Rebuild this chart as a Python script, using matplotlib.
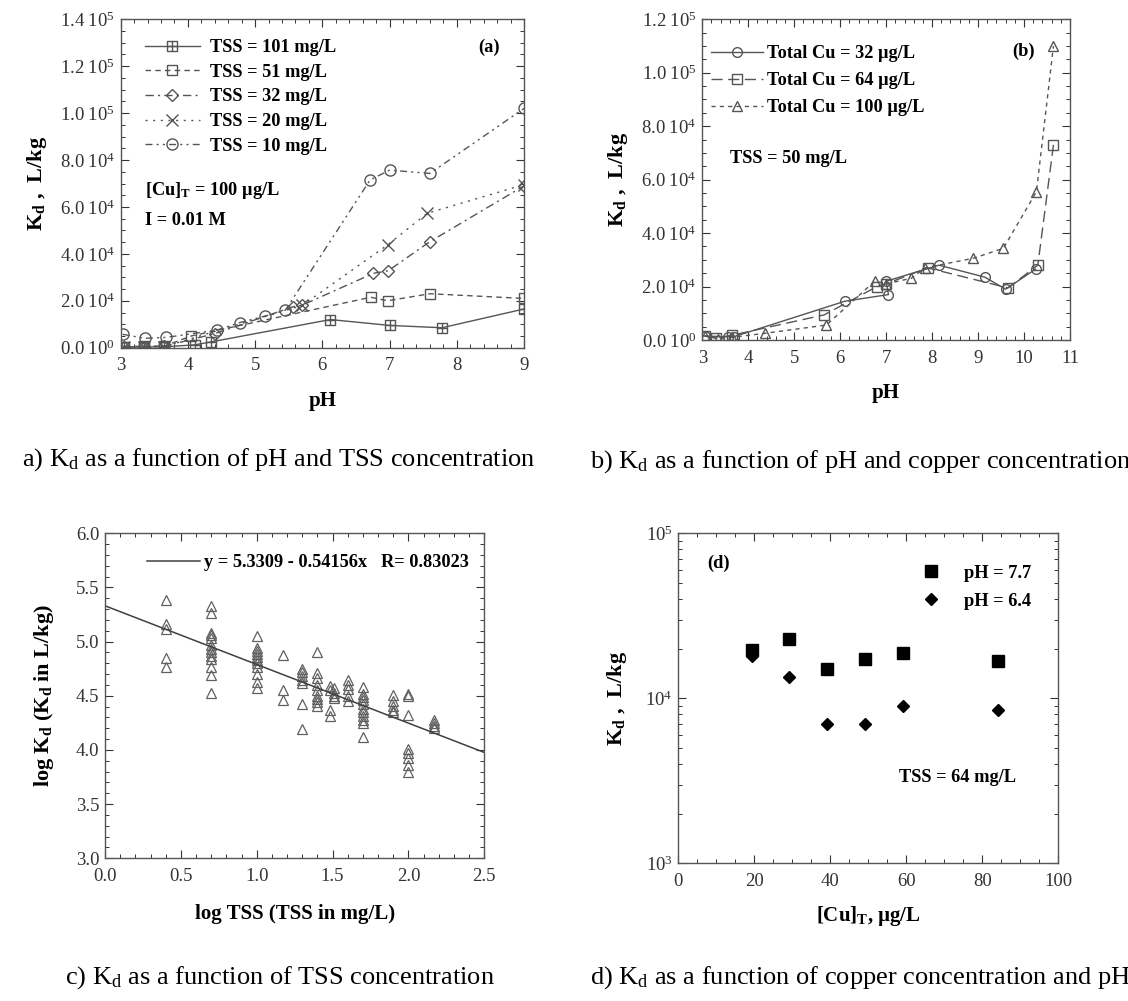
import numpy as np
import matplotlib
matplotlib.use("Agg")
import matplotlib.pyplot as plt
from matplotlib.path import Path
from matplotlib.ticker import MultipleLocator, FuncFormatter, LogLocator, LogFormatterMathtext, NullFormatter

plt.rcParams['font.family'] = ['Liberation Serif', 'DejaVu Serif']
plt.rcParams['mathtext.fontset'] = 'custom'
plt.rcParams['mathtext.rm'] = 'Liberation Serif'
plt.rcParams['mathtext.it'] = 'Liberation Serif:italic'
plt.rcParams['mathtext.bf'] = 'Liberation Serif:bold'

# ---------------- data: panel (a) ----------------
ph_a_101 = [3.05, 3.35, 3.65, 4.1, 4.35, 6.12, 7.0, 7.78, 9.0]
kd_a_101 = [300, 300, 400, 1200, 2500, 12000, 9500, 8500, 16500]
ph_a_51 = [3.05, 3.35, 3.65, 4.05, 6.72, 6.97, 7.6, 9.0]
kd_a_51 = [500, 600, 700, 5000, 21500, 20000, 23000, 21000]
ph_a_32 = [3.05, 3.35, 3.65, 4.4, 5.57, 5.69, 6.76, 6.98, 7.6, 9.0]
kd_a_32 = [400, 500, 600, 6000, 17500, 18000, 31700, 32800, 45200, 69000]
ph_a_20 = [3.05, 3.35, 3.65, 5.7, 6.97, 7.56, 9.0]
kd_a_20 = [300, 400, 500, 18000, 43800, 57300, 69500]
ph_a_10 = [3.03, 3.36, 3.68, 4.43, 4.77, 5.15, 5.45, 6.71, 7.0, 7.6, 9.0]
kd_a_10 = [5700, 4000, 4400, 7500, 10700, 13500, 16000, 71500, 75700, 74300, 102000]
labels_a = ["TSS = 101 mg/L", "TSS = 51 mg/L", "TSS = 32 mg/L", "TSS = 20 mg/L", "TSS = 10 mg/L"]

# ---------------- data: panel (b) ----------------
ph_b_32 = [3.05, 3.55, 3.7, 6.1, 7.05, 7.0, 8.15, 9.15, 9.6, 10.25]
kd_b_32 = [1500, 1200, 1300, 14500, 17000, 22000, 28000, 23500, 19000, 26500]
ph_b_64 = [3.05, 3.3, 3.65, 5.65, 6.8, 7.0, 7.9, 9.65, 10.3, 10.64]
kd_b_64 = [1500, 800, 1800, 9400, 20000, 21000, 27000, 19500, 28000, 73000]
ph_b_100 = [3.05, 3.35, 3.65, 4.36, 5.7, 6.75, 7.0, 7.55, 7.85, 8.9, 9.55, 10.27, 10.64]
kd_b_100 = [1500, 500, 1000, 2500, 5600, 22000, 21000, 23100, 27000, 30600, 34300, 55500, 110000]
labels_b = ["Total Cu = 32 \u00b5g/L", "Total Cu = 64 \u00b5g/L", "Total Cu = 100 \u00b5g/L"]

# ---------------- data: panel (c) ----------------
logtss_groups = [0.4, 0.7, 1.0, 1.17, 1.3, 1.4, 1.48, 1.51, 1.6, 1.7, 1.9, 2.0, 2.17]
logkd_groups = [
    [5.38, 5.16, 5.12, 4.85, 4.77],
    [5.33, 5.26, 5.08, 5.06, 5.03, 4.97, 4.93, 4.90, 4.87, 4.84, 4.77, 4.69, 4.53],
    [5.05, 4.94, 4.91, 4.89, 4.86, 4.83, 4.80, 4.77, 4.70, 4.63, 4.57],
    [4.88, 4.55, 4.46],
    [4.75, 4.72, 4.68, 4.65, 4.62, 4.42, 4.19],
    [4.90, 4.71, 4.66, 4.60, 4.55, 4.50, 4.47, 4.44, 4.41],
    [4.59, 4.55, 4.37, 4.31],
    [4.57, 4.53, 4.50, 4.48],
    [4.65, 4.60, 4.56, 4.50, 4.45],
    [4.58, 4.52, 4.49, 4.46, 4.42, 4.38, 4.35, 4.31, 4.28, 4.25, 4.12],
    [4.51, 4.45, 4.41, 4.37, 4.35],
    [4.52, 4.50, 4.32, 4.01, 3.97, 3.93, 3.86, 3.80],
    [4.28, 4.25, 4.22, 4.20],
]
fit_intercept = 5.3309
fit_slope = -0.54156
fit_label = "y = 5.3309 - 0.54156x   R= 0.83023"

# ---------------- data: panel (d) ----------------
cu_d = [19.3, 29.2, 39.0, 49.1, 59.2, 84.2]
kd_d_77 = [19600, 22800, 15100, 17200, 18700, 16800]
kd_d_64 = [18100, 13500, 6980, 6950, 9040, 8500]
labels_d = ["pH = 7.7", "pH = 6.4"]

# ---------------- figure ----------------
W, H = 1128, 1001
fig = plt.figure(figsize=(W / 100, H / 100), dpi=100)

def axes_px(x0, y0, x1, y1):
    return fig.add_axes([x0 / W, 1 - y1 / H, (x1 - x0) / W, (y1 - y0) / H])

TICK_FS = 13.5
LAB_FS = 15
LEG_FS = 13.2
GRAY = '#555555'

def style_axes(ax):
    ax.tick_params(which='both', direction='in', top=True, right=True, labelsize=TICK_FS, colors='#333333')
    ax.tick_params(which='major', length=6, width=0.8)
    ax.tick_params(which='minor', length=3, width=0.7)
    ax.tick_params(axis='x', which='major', pad=7)
    ax.tick_params(axis='y', which='major', pad=4)
    for s in ax.spines.values():
        s.set_color('#555555')
        s.set_linewidth(1.0)

def sci_fmt(v, pos):
    if abs(v) < 1e-9:
        return r"$\mathrm{0.0\ 10^{0}}$"
    if v < 0:
        return ""
    e = int(np.floor(np.log10(v) + 1e-9))
    m = v / 10 ** e
    return r"$\mathrm{%.1f\ 10^{%d}}$" % (m, e)

# square with cross marker
sqplus = Path([(-1, -1), (1, -1), (1, 1), (-1, 1), (-1, -1), (0, -1), (0, 1), (-1, 0), (1, 0)],
              [Path.MOVETO, Path.LINETO, Path.LINETO, Path.LINETO, Path.CLOSEPOLY,
               Path.MOVETO, Path.LINETO, Path.MOVETO, Path.LINETO])

bold_prop = {'family': 'Liberation Serif', 'weight': 'bold', 'size': LEG_FS}
MU = '\u00b5'

# ---------------- panel (a) ----------------
axa = axes_px(120.7, 19.3, 524, 347.7)
style_axes(axa)
series_a = [
    (ph_a_101, kd_a_101, '-', sqplus, 7.5),
    (ph_a_51, kd_a_51, (0, (4, 3)), 's', 7.5),
    (ph_a_32, kd_a_32, (0, (6, 3, 1.5, 3)), 'D', 6),
    (ph_a_20, kd_a_20, (0, (1.5, 4)), 'x', 8),
    (ph_a_10, kd_a_10, (0, (5, 3, 1.5, 3, 1.5, 3)), 'o', 8),
]
for (xs, ys, ls, mk, ms), lab in zip(series_a, labels_a):
    axa.plot(xs, ys, linestyle=ls, color=GRAY, lw=1.0, marker=mk, ms=ms, mfc='none',
             mec=GRAY, mew=1.0, label=lab)
axa.set_xlim(3, 9)
axa.set_ylim(0, 1.4e5)
axa.xaxis.set_major_locator(MultipleLocator(1))
axa.xaxis.set_minor_locator(MultipleLocator(0.2))
axa.yaxis.set_major_locator(MultipleLocator(2e4))
axa.yaxis.set_minor_locator(MultipleLocator(5e3))
axa.yaxis.set_major_formatter(FuncFormatter(sci_fmt))
axa.set_xlabel("pH", fontsize=LAB_FS, fontweight='bold', labelpad=12)
axa.set_ylabel(r"K$_\mathbf{d}$ ,  L/kg", fontsize=LAB_FS + 1, fontweight='bold', labelpad=8)
axa.legend(loc='upper left', bbox_to_anchor=(0.06, 0.94), frameon=False, prop=bold_prop,
           handlelength=3.0, labelspacing=0.42, borderpad=0, borderaxespad=0, handletextpad=0.55)
axa.text(0.94, 0.916, "(a)", transform=axa.transAxes, ha='right', va='center',
         fontsize=LEG_FS, fontweight='bold')
axa.text(0.06, 0.48, r"[Cu]$_\mathbf{T}$ = 100 " + MU + "g/L",
         transform=axa.transAxes, ha='left', va='center', fontsize=LEG_FS, fontweight='bold')
axa.text(0.06, 0.386, "I = 0.01 M", transform=axa.transAxes, ha='left', va='center',
         fontsize=LEG_FS, fontweight='bold')

# ---------------- panel (b) ----------------
axb = axes_px(702.3, 19.3, 1070, 340)
style_axes(axb)
series_b = [
    (ph_b_32, kd_b_32, '-', 'o', 7),
    (ph_b_64, kd_b_64, (0, (8, 4)), 's', 7),
    (ph_b_100, kd_b_100, (0, (3, 3)), '^', 7),
]
for (xs, ys, ls, mk, ms), lab in zip(series_b, labels_b):
    axb.plot(xs, ys, linestyle=ls, color=GRAY, lw=1.0, marker=mk, ms=ms, mfc='none',
             mec=GRAY, mew=1.0, label=lab)
axb.set_xlim(3, 11)
axb.set_ylim(0, 1.2e5)
axb.xaxis.set_major_locator(MultipleLocator(1))
axb.xaxis.set_minor_locator(MultipleLocator(0.2))
axb.yaxis.set_major_locator(MultipleLocator(2e4))
axb.yaxis.set_minor_locator(MultipleLocator(5e3))
axb.yaxis.set_major_formatter(FuncFormatter(sci_fmt))
axb.set_xlabel("pH", fontsize=LAB_FS, fontweight='bold', labelpad=12)
axb.set_ylabel(r"K$_\mathbf{d}$ ,  L/kg", fontsize=LAB_FS + 1, fontweight='bold', labelpad=8)
axb.legend(loc='upper left', bbox_to_anchor=(0.025, 0.92), frameon=False, prop=bold_prop,
           handlelength=2.8, labelspacing=0.55, borderpad=0, borderaxespad=0, handletextpad=0.25)
axb.text(0.905, 0.9, "(b)", transform=axb.transAxes, ha='right', va='center',
         fontsize=LEG_FS, fontweight='bold')
axb.text(0.075, 0.567, "TSS = 50 mg/L", transform=axb.transAxes, ha='left', va='center',
         fontsize=LEG_FS, fontweight='bold')

# ---------------- panel (c) ----------------
axc = axes_px(105, 533.3, 484.3, 858.3)
style_axes(axc)
for xv, ys in zip(logtss_groups, logkd_groups):
    axc.plot([xv] * len(ys), ys, linestyle='none', marker='^', ms=7, mfc='none', mec='#606060', mew=0.9)
xfit = np.array([0.0, 2.5])
axc.plot(xfit, fit_intercept + fit_slope * xfit, color='#404040', lw=1.1, label=fit_label)
axc.set_xlim(0, 2.5)
axc.set_ylim(3.0, 6.0)
axc.xaxis.set_major_locator(MultipleLocator(0.5))
axc.xaxis.set_minor_locator(MultipleLocator(0.1))
axc.yaxis.set_major_locator(MultipleLocator(0.5))
axc.yaxis.set_minor_locator(MultipleLocator(0.1))
axc.xaxis.set_major_formatter(FuncFormatter(lambda v, p: "%.1f" % v))
axc.yaxis.set_major_formatter(FuncFormatter(lambda v, p: "%.1f" % v))
axc.set_xlabel("log TSS (TSS in mg/L)", fontsize=LAB_FS, fontweight='bold', labelpad=14)
axc.set_ylabel(r"log K$_\mathbf{d}$ (K$_\mathbf{d}$ in L/kg)", fontsize=LAB_FS + 1, fontweight='bold', labelpad=14)
axc.legend(loc='upper left', bbox_to_anchor=(0.11, 0.935), frameon=False, prop=bold_prop,
           handlelength=2.9, borderpad=0, borderaxespad=0, handletextpad=0.2)

# ---------------- panel (d) ----------------
axd = axes_px(678.3, 533.3, 1058.3, 863.3)
style_axes(axd)
axd.set_yscale('log')
axd.plot(cu_d, kd_d_77, linestyle='none', marker='s', ms=8, color='black', label=labels_d[0])
axd.plot(cu_d, kd_d_64, linestyle='none', marker='D', ms=6, color='black', label=labels_d[1])
axd.set_xlim(0, 100)
axd.set_ylim(1e3, 1e5)
axd.xaxis.set_major_locator(MultipleLocator(20))
axd.xaxis.set_minor_locator(MultipleLocator(5))
axd.yaxis.set_major_locator(LogLocator(base=10))
axd.yaxis.set_minor_locator(LogLocator(base=10, subs=np.arange(2, 10)))
axd.yaxis.set_major_formatter(LogFormatterMathtext())
axd.yaxis.set_minor_formatter(NullFormatter())
axd.set_xlabel(r"[Cu]$_\mathbf{T}$, " + MU + "g/L", fontsize=LAB_FS, fontweight='bold', labelpad=10)
axd.set_ylabel(r"K$_\mathbf{d}$ ,  L/kg", fontsize=LAB_FS + 1, fontweight='bold', labelpad=12)
axd.legend(loc='upper left', bbox_to_anchor=(0.64, 0.905), frameon=False, prop=bold_prop,
           handlelength=1.0, labelspacing=0.6, borderpad=0, borderaxespad=0, handletextpad=1.3)
axd.text(0.075, 0.91, "(d)", transform=axd.transAxes, ha='left', va='center',
         fontsize=LEG_FS, fontweight='bold')
axd.text(0.58, 0.26, "TSS = 64 mg/L", transform=axd.transAxes, ha='left', va='center',
         fontsize=LEG_FS, fontweight='bold')

# ---------------- captions ----------------
CAP_FS = 19
fig.text(22 / W, 1 - 460 / H, r"a) K$_\mathrm{d}$ as a function of pH and TSS concentration",
         ha='left', va='center', fontsize=CAP_FS)
fig.text(590 / W, 1 - 462 / H, r"b) K$_\mathrm{d}$ as a function of pH and copper concentration",
         ha='left', va='center', fontsize=CAP_FS)
fig.text(65 / W, 1 - 978 / H, r"c) K$_\mathrm{d}$ as a function of TSS concentration",
         ha='left', va='center', fontsize=CAP_FS)
fig.text(590 / W, 1 - 978 / H, r"d) K$_\mathrm{d}$ as a function of copper concentration and pH",
         ha='left', va='center', fontsize=CAP_FS)

fig.savefig("out.png", dpi=100, facecolor='white')
